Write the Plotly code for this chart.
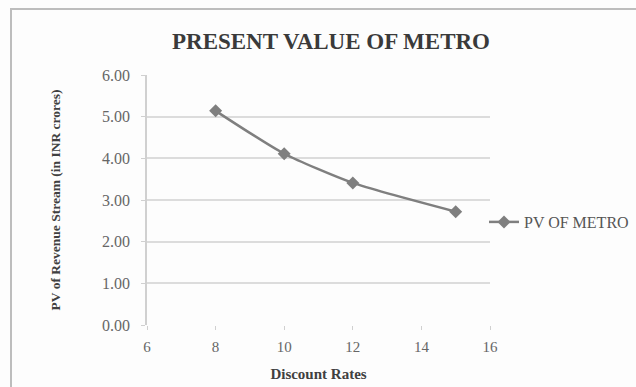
import plotly.graph_objects as go

discount_rates = [8, 10, 12, 15]
pv_metro = [5.14, 4.11, 3.41, 2.72]
series_name = "PV OF METRO"
y_ticks = [0, 1, 2, 3, 4, 5, 6]
y_tick_labels = ["0.00", "1.00", "2.00", "3.00", "4.00", "5.00", "6.00"]
x_ticks = [6, 8, 10, 12, 14, 16]

W, H = 636, 387
L, R, T, B = 147, 146, 75, 62
pw, ph = W - L - R, H - T - B

def px_x(p):
    return (p - L) / pw

def px_y(p):
    return (H - B - p) / ph

grey = "#7f7f7f"
serif = "Liberation Serif, Times New Roman, serif"

fig = go.Figure()
fig.add_trace(go.Scatter(
    x=discount_rates, y=pv_metro, name=series_name,
    mode="lines+markers",
    line=dict(color=grey, width=2.5, shape="spline", smoothing=0.6),
    marker=dict(symbol="diamond", size=10, color=grey),
    showlegend=True,
))

fig.update_layout(
    width=W, height=H,
    margin=dict(l=L, r=R, t=T, b=B, autoexpand=False),
    paper_bgcolor="#fdfdfd", plot_bgcolor="#fdfdfd",
    font=dict(family=serif, color="#595959", size=14),
    title=dict(text="<b>PRESENT VALUE OF METRO</b>", x=331 / W, xanchor="center",
               y=1 - 41 / H, yanchor="middle",
               font=dict(family=serif, size=23, color="#3a3a3a")),
    xaxis=dict(range=[6, 16], tickvals=x_ticks, showgrid=False, zeroline=False,
               showline=False, ticks="outside", ticklen=4, tickcolor="#d0d0d0",
               ticklabelstandoff=4, automargin=False,
               tickfont=dict(family=serif, size=15, color="#666666"),
               title=dict(text="<b>Discount Rates</b>", standoff=14,
                          font=dict(family=serif, size=15, color="#404040"))),
    yaxis=dict(range=[0, 6], tickvals=y_ticks, ticktext=y_tick_labels,
               showgrid=True, gridcolor="#dcdcdc", gridwidth=1.5, zeroline=False,
               showline=True, linecolor="#d0d0d0", linewidth=1.5,
               ticks="outside", ticklen=4, tickcolor="#d0d0d0",
               ticklabelstandoff=8, automargin=False,
               tickfont=dict(family=serif, size=16, color="#666666"),
               title=dict(text="<b>PV of Revenue Stream (in INR crores)</b>", standoff=38,
                          font=dict(family=serif, size=13.5, color="#404040"))),
    legend=dict(x=px_x(484), xanchor="left", y=px_y(222), yanchor="middle",
                bgcolor="rgba(0,0,0,0)",
                font=dict(family=serif, size=16, color="#555555"),
                itemwidth=30),
    shapes=[dict(type="rect", xref="paper", yref="paper",
                 x0=px_x(11), x1=px_x(645), y0=px_y(395), y1=px_y(9),
                 line=dict(color="#bdbdbd", width=2), fillcolor="rgba(0,0,0,0)",
                 layer="below")],
)
fig.write_html("out.html", config={"displayModeBar": False},
               post_script="document.body.style.margin='0';")
